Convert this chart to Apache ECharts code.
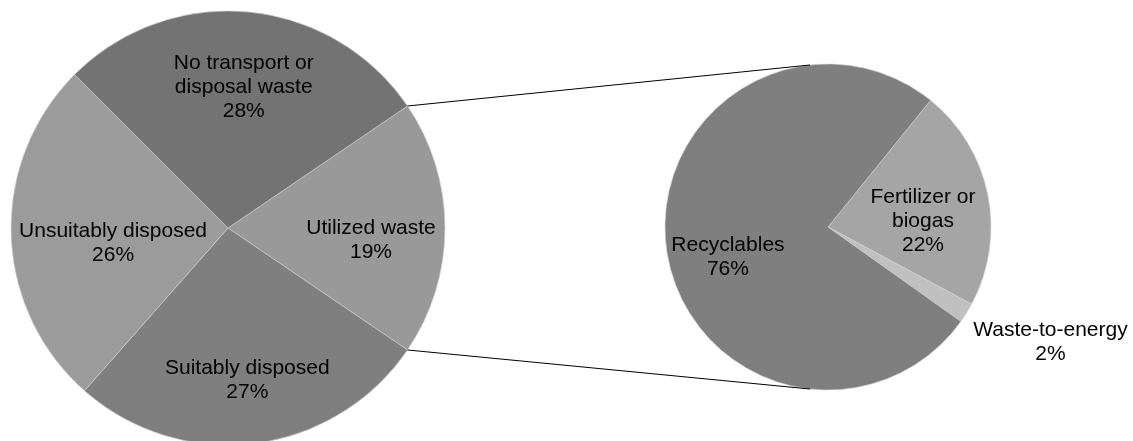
<!DOCTYPE html>
<html lang="en">
<head>
    <meta charset="UTF-8">
    <title>Waste pie of pie</title>
    <style>
        html, body { margin: 0; padding: 0; background: #fff; }
        #box { width: 1133px; height: 441px; }
    </style>
</head>
<body>
    <div id="box"></div>
    <script src="https://cdn.jsdelivr.net/npm/echarts@6/dist/echarts.min.js"></script>
    <script>
        // main pie, clockwise starting with the split-off slice
        var mainNames = ['Utilized waste', 'Suitably disposed', 'Unsuitably disposed', 'No transport or\ndisposal waste'];
        var mainValues = [19, 27, 26, 28];
        var mainColors = ['#999999', '#7f7f7f', '#9b9b9b', '#737373'];

        // secondary pie (breakdown of utilized waste)
        var subNames = ['Fertilizer or\nbiogas', 'Waste-to-energy', 'Recyclables'];
        var subValues = [22, 2, 76];
        var subColors = ['#a5a5a5', '#c0c0c0', '#7f7f7f'];

        // label nudges [dx, dy] in px, and which ring radius the label sits on
        var mainNudge = [[-3, 12], [1, 7], [31, 11], [2, 5]];
        var subNudge = [[-6, 15], [10, -17], [2, 16]];
        var subLabelR = [100, 247, 100];

        var L = { cx: 228, cy: 228, r: 217, labelR: 143 };
        var R = { cx: 828, cy: 227, r: 163, start: 51 };

        var sum = function (a) { return a.reduce(function (s, v) { return s + v; }, 0); };
        var mainStart = mainValues[0] / sum(mainValues) * 180;

        var txt = { color: '#000', fontFamily: 'Liberation Sans, Arial, sans-serif', fontSize: 21, lineHeight: 24 };

        // horizontal shift through padding, vertical shift through an empty spacer line
        function nudgedLabel(n) {
            var pad = [0, Math.max(0, -2 * n[0]), 0, Math.max(0, 2 * n[0])];
            return {
                padding: pad,
                rich: { x: txt, sp: { fontSize: 2, lineHeight: Math.max(1, Math.abs(2 * n[1])) } },
                formatter: function (p) {
                    var body = '{x|' + p.name + '}\n{x|' + Math.round(p.percent) + '%}';
                    if (n[1] > 0) return '{sp| }\n' + body;
                    if (n[1] < 0) return body + '\n{sp| }';
                    return body;
                }
            };
        }

        var labelBase = { show: true, position: 'inside', color: '#000', fontFamily: txt.fontFamily, fontSize: 21, lineHeight: 24 };

        function pieData(names, values, colors) {
            return names.map(function (n, i) {
                return { name: n, value: values[i], itemStyle: { color: colors[i] } };
            });
        }
        function labelData(names, values, nudge, keep) {
            return names.map(function (n, i) {
                var lab = nudgedLabel(nudge[i]);
                if (keep && !keep(i)) lab.show = false;
                return { name: n, value: values[i], label: lab };
            });
        }
        function labelRing(c, r, labelR, start, data) {
            return {
                type: 'pie',
                center: [c[0], c[1]],
                radius: [Math.min(r, 2 * labelR - r), Math.max(r, 2 * labelR - r)],
                startAngle: start,
                silent: true,
                avoidLabelOverlap: false,
                z: 5,
                itemStyle: { color: 'rgba(0,0,0,0)' },
                label: labelBase,
                labelLine: { show: false },
                data: data
            };
        }

        // connector lines: from the edges of the split slice to the top/bottom of the second pie
        var half = mainStart * Math.PI / 180;
        var subAng = 96.3 * Math.PI / 180;
        var p1 = [L.cx + L.r * Math.cos(half), L.cy - L.r * Math.sin(half)];
        var p2 = [L.cx + L.r * Math.cos(half), L.cy + L.r * Math.sin(half)];
        var q1 = [R.cx + R.r * Math.cos(subAng), R.cy - R.r * Math.sin(subAng)];
        var q2 = [R.cx + R.r * Math.cos(subAng), R.cy + R.r * Math.sin(subAng)];

        var myChart = echarts.init(document.getElementById('box'));
        var option = {
            animation: false,
            backgroundColor: '#fff',
            graphic: [
                { type: 'line', shape: { x1: p1[0], y1: p1[1], x2: q1[0], y2: q1[1] }, style: { stroke: '#000', lineWidth: 1 }, z: 10 },
                { type: 'line', shape: { x1: p2[0], y1: p2[1], x2: q2[0], y2: q2[1] }, style: { stroke: '#000', lineWidth: 1 }, z: 10 }
            ],
            series: [
                {
                    type: 'pie',
                    center: [L.cx, L.cy],
                    radius: [0, L.r],
                    startAngle: mainStart,
                    clockwise: true,
                    silent: true,
                    label: { show: false },
                    labelLine: { show: false },
                    itemStyle: { borderColor: '#d0d0d0', borderWidth: 0.6 },
                    data: pieData(mainNames, mainValues, mainColors)
                },
                labelRing([L.cx, L.cy], L.r, L.labelR, mainStart, labelData(mainNames, mainValues, mainNudge)),
                {
                    type: 'pie',
                    center: [R.cx, R.cy],
                    radius: [0, R.r],
                    startAngle: R.start,
                    clockwise: true,
                    silent: true,
                    label: { show: false },
                    labelLine: { show: false },
                    itemStyle: { borderColor: '#d0d0d0', borderWidth: 0.6 },
                    data: pieData(subNames, subValues, subColors)
                },
                labelRing([R.cx, R.cy], R.r, subLabelR[0], R.start,
                    labelData(subNames, subValues, subNudge, function (i) { return subLabelR[i] === subLabelR[0]; })),
                labelRing([R.cx, R.cy], R.r, subLabelR[1], R.start,
                    labelData(subNames, subValues, subNudge, function (i) { return subLabelR[i] !== subLabelR[0]; }))
            ]
        };
        option && myChart.setOption(option);
    </script>
</body>
</html>
